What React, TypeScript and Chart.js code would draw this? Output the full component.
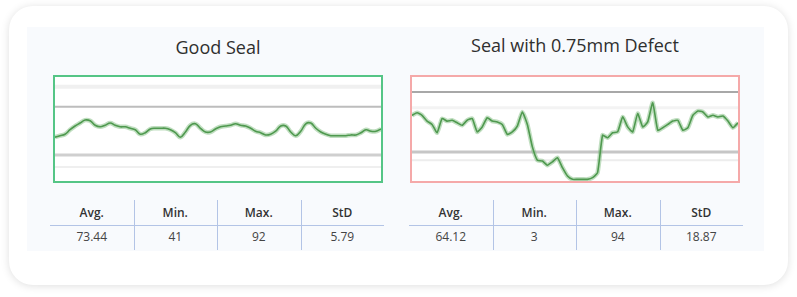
import React, { useEffect, useRef } from "react";
import { Chart, registerables } from "chart.js";

Chart.register(...registerables);

// ---- Data ----
const goodTitle = "Good Seal";
const defectTitle = "Seal with 0.75mm Defect";

const goodSignal = [
  59, 61, 63, 69, 74, 78, 82, 81, 75, 73, 75, 78, 75, 73, 73, 71, 69, 63, 65, 70,
  71, 71, 71, 69, 65, 59, 66, 75, 77, 71, 66, 66, 70, 73, 74, 75, 77, 75, 74, 71,
  67, 65, 62, 63, 67, 74, 74, 66, 61, 67, 77, 78, 71, 66, 63, 61, 61, 61, 61, 62,
  62, 65, 69, 67, 67, 70,
];
const defectSignal = [
  79, 82, 79, 72, 68, 58, 75, 72, 73, 70, 67, 73, 75, 59, 65, 76, 72, 71, 68, 56,
  59, 66, 83, 68, 41, 25, 24, 19, 23, 28, 16, 6, 2, 2, 2, 2, 4, 10, 55, 52,
  58, 59, 77, 65, 59, 81, 65, 71, 94, 61, 64, 68, 72, 73, 61, 64, 79, 84, 83, 77,
  79, 77, 78, 72, 64, 70,
];

const goodYMax = 140;
const defectYMax = 125;

const goodUpperLimit = 100;
const goodLowerLimit = 35;
const goodFaintHigh = 127;
const goodFaintLow = 19;
const defectUpperLimit = 107;
const defectLowerLimit = 35;
const defectFaintHigh = 88;
const defectFaintLow = 25;

const statHeaders = ["Avg.", "Min.", "Max.", "StD"];
const goodStats = ["73.44", "41", "92", "5.79"];
const defectStats = ["64.12", "3", "94", "18.87"];

const FONT = "'Open Sans', 'Noto Sans', sans-serif";

type RefLine = { value: number; color: string; width: number; dash?: number[] };

function SignalChart(props: {
  signal: number[];
  yMax: number;
  lines: RefLine[];
  tension: number;
  w: number;
  h: number;
}) {
  const ref = useRef<HTMLCanvasElement | null>(null);
  useEffect(() => {
    if (!ref.current) return;
    const labels = props.signal.map((_, i) => String(i));
    const refSets = props.lines.map((l) => ({
      data: labels.map(() => l.value),
      borderColor: l.color,
      borderWidth: l.width,
      borderDash: l.dash || [],
      pointRadius: 0,
      tension: 0,
      order: 2,
    }));
    const chart = new Chart(ref.current, {
      type: "line",
      data: {
        labels,
        datasets: [
          ...refSets,
          {
            data: props.signal,
            borderColor: "rgba(130,190,130,0.5)",
            borderWidth: 4.5,
            pointRadius: 0,
            tension: props.tension,
            order: 1,
          },
          {
            data: props.signal,
            borderColor: "#4f994f",
            borderWidth: 1.6,
            pointRadius: 0,
            tension: props.tension,
            order: 0,
          },
        ],
      },
      options: {
        animation: false,
        responsive: false,
        devicePixelRatio: 1,
        layout: { padding: 0 },
        plugins: { legend: { display: false }, tooltip: { enabled: false } },
        scales: {
          x: { display: false, offset: false },
          y: { display: false, min: 0, max: props.yMax },
        },
      },
    });
    return () => chart.destroy();
  }, []);
  return <canvas ref={ref} width={props.w} height={props.h} style={{ display: "block" }} />;
}

function StatsTable(props: { left: number; top: number; width: number; values: string[] }) {
  const colW = props.width / 4;
  const lineColor = "#b3c4e6";
  return (
    <div style={{ position: "absolute", left: props.left, top: props.top, width: props.width, height: 50 }}>
      <div style={{ position: "absolute", left: 0, top: 25, width: props.width, height: 1, background: lineColor }} />
      {[1, 2, 3].map((i) => (
        <div key={i} style={{ position: "absolute", left: Math.round(colW * i), top: 0, width: 1, height: 50, background: lineColor }} />
      ))}
      {statHeaders.map((h, i) => (
        <div
          key={"h" + i}
          style={{
            position: "absolute",
            left: colW * i,
            top: 4,
            width: colW,
            textAlign: "center",
            fontFamily: FONT,
            fontSize: 12,
            fontWeight: 600,
            color: "#333",
            lineHeight: "18px",
          }}
        >
          {h}
        </div>
      ))}
      {props.values.map((v, i) => (
        <div
          key={"v" + i}
          style={{
            position: "absolute",
            left: colW * i,
            top: 28,
            width: colW,
            textAlign: "center",
            fontFamily: FONT,
            fontSize: 12,
            color: "#444",
            lineHeight: "18px",
          }}
        >
          {v}
        </div>
      ))}
    </div>
  );
}

export default function App() {
  const chartW = 326;
  const chartH = 104;
  const titleStyle: React.CSSProperties = {
    position: "absolute",
    width: 330,
    textAlign: "center",
    fontFamily: FONT,
    fontSize: 18,
    fontWeight: 500,
    color: "#2f2f2f",
    lineHeight: "24px",
  };
  return (
    <div style={{ position: "fixed", left: 0, top: 0, width: 797, height: 297, background: "#fff", overflow: "hidden" }}>
      <div
        style={{
          position: "absolute",
          left: 9,
          top: 6,
          width: 779,
          height: 279,
          borderRadius: 24,
          background: "#fff",
          boxShadow: "0 1px 8px rgba(0,0,0,0.13)",
        }}
      />
      <div style={{ position: "absolute", left: 27, top: 27, width: 737, height: 224, background: "#f8fafd" }} />

      <div style={{ ...titleStyle, left: 53, top: 35 }}>{goodTitle}</div>
      <div style={{ ...titleStyle, left: 410, top: 33 }}>{defectTitle}</div>

      <div style={{ position: "absolute", left: 53, top: 75, border: "2px solid #55c586", background: "#fff" }}>
        <SignalChart
          signal={goodSignal}
          yMax={goodYMax}
          tension={0.4}
          w={chartW}
          h={chartH}
          lines={[
            { value: goodFaintHigh, color: "#f0f0f0", width: 4 },
            { value: goodFaintLow, color: "#efefef", width: 2 },
            { value: goodUpperLimit, color: "#bdbdbd", width: 2 },
            { value: goodLowerLimit, color: "#cfcfcf", width: 3 },
          ]}
        />
      </div>
      <div style={{ position: "absolute", left: 410, top: 75, border: "2px solid #f5a9a9", background: "#fff" }}>
        <SignalChart
          signal={defectSignal}
          yMax={defectYMax}
          tension={0.15}
          w={chartW}
          h={chartH}
          lines={[
            { value: defectFaintHigh, color: "#f3f3f3", width: 3 },
            { value: defectFaintLow, color: "#ededed", width: 2 },
            { value: defectUpperLimit, color: "#a8a8a8", width: 2 },
            { value: defectLowerLimit, color: "#c6c6c6", width: 3 },
          ]}
        />
      </div>

      <StatsTable left={50} top={200} width={334} values={goodStats} />
      <StatsTable left={409} top={200} width={334} values={defectStats} />
    </div>
  );
}
